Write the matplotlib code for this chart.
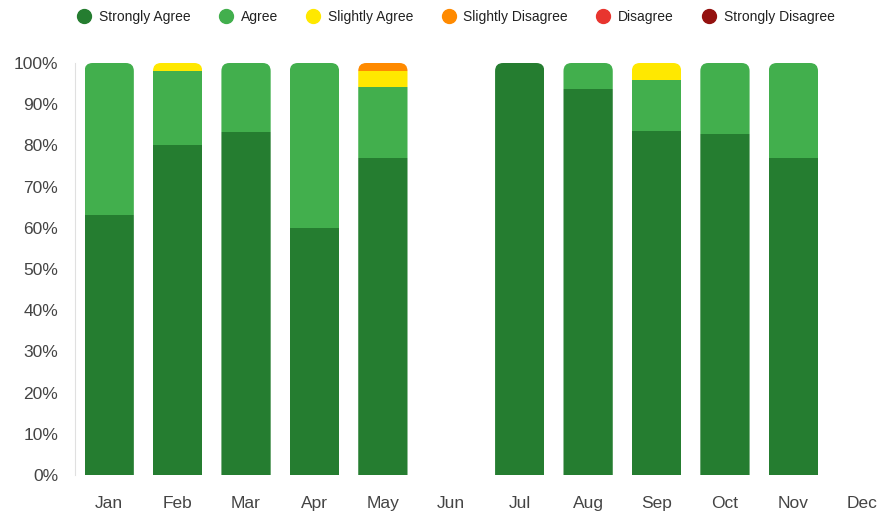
import numpy as np
import matplotlib
matplotlib.use('Agg')
import matplotlib.pyplot as plt
from matplotlib.patches import FancyBboxPatch
from matplotlib.lines import Line2D

plt.rcParams['font.family'] = ['Liberation Sans', 'DejaVu Sans']

# data (percent of responses per month)
months = ['Jan', 'Feb', 'Mar', 'Apr', 'May', 'Jun', 'Jul', 'Aug', 'Sep', 'Oct', 'Nov', 'Dec']
strongly_agree = [63, 80, 83.3, 60, 76.9, 0, 100, 93.7, 83.5, 82.8, 76.9, 0]
agree = [37, 18, 16.7, 40, 17.3, 0, 0, 6.3, 12.4, 17.2, 23.1, 0]
slightly_agree = [0, 2, 0, 0, 3.9, 0, 0, 0, 4.1, 0, 0, 0]
slightly_disagree = [0, 0, 0, 0, 1.9, 0, 0, 0, 0, 0, 0, 0]
disagree = [0] * 12
strongly_disagree = [0] * 12

series = [strongly_agree, agree, slightly_agree, slightly_disagree, disagree, strongly_disagree]
names = ['Strongly Agree', 'Agree', 'Slightly Agree', 'Slightly Disagree', 'Disagree', 'Strongly Disagree']
colors = ['#257d30', '#42af4d', '#ffe800', '#ff8a00', '#e8352f', '#94110f']

fig = plt.figure(figsize=(8.81, 5.13), dpi=100)
W, H = 881, 513
ax = fig.add_axes([75 / W, 38 / H, 821 / W, 412 / H])

x = np.arange(len(months))
width = 0.72
bottom = np.zeros(len(months))
bars = []
for vals, c in zip(series, colors):
    v = np.array(vals, dtype=float)
    b = ax.bar(x, v, width, bottom=bottom, color=c, linewidth=0)
    bars.append(b)
    bottom += v

# rounded top corners: clip each column with a rounded box
rx = 8 / 68.4
ry = 8 / 4.12
for i in range(len(months)):
    if bottom[i] <= 0:
        continue
    box = FancyBboxPatch((x[i] - width / 2, -20), width, bottom[i] + 20,
                         boxstyle='round,pad=0,rounding_size=%f' % rx,
                         mutation_aspect=ry / rx)
    path = box.get_path()
    for b in bars:
        b[i].set_clip_path(path, ax.transData)

ax.set_xlim(-0.5, 11.5)
ax.set_ylim(0, 100)
ax.set_xticks(x)
ax.set_xticklabels(months)
ax.set_yticks(np.arange(0, 101, 10))
ax.set_yticklabels(['%d%%' % t for t in range(0, 101, 10)])
ax.tick_params(length=0, labelsize=12.5, labelcolor='#444444')
ax.tick_params(axis='x', pad=15)
ax.tick_params(axis='y', pad=12)
for s in ['top', 'right', 'bottom']:
    ax.spines[s].set_visible(False)
ax.spines['left'].set_color('#e0e0e0')

handles = [Line2D([], [], marker='o', linestyle='', markersize=10,
                  markerfacecolor=c, markeredgecolor=c) for c in colors]
fig.legend(handles, names, loc='upper left', bbox_to_anchor=(58 / W, 1.005),
           ncol=6, frameon=False, fontsize=10, handletextpad=0.05,
           columnspacing=1.55, labelcolor='#222222')

fig.savefig('out.png', dpi=100)
